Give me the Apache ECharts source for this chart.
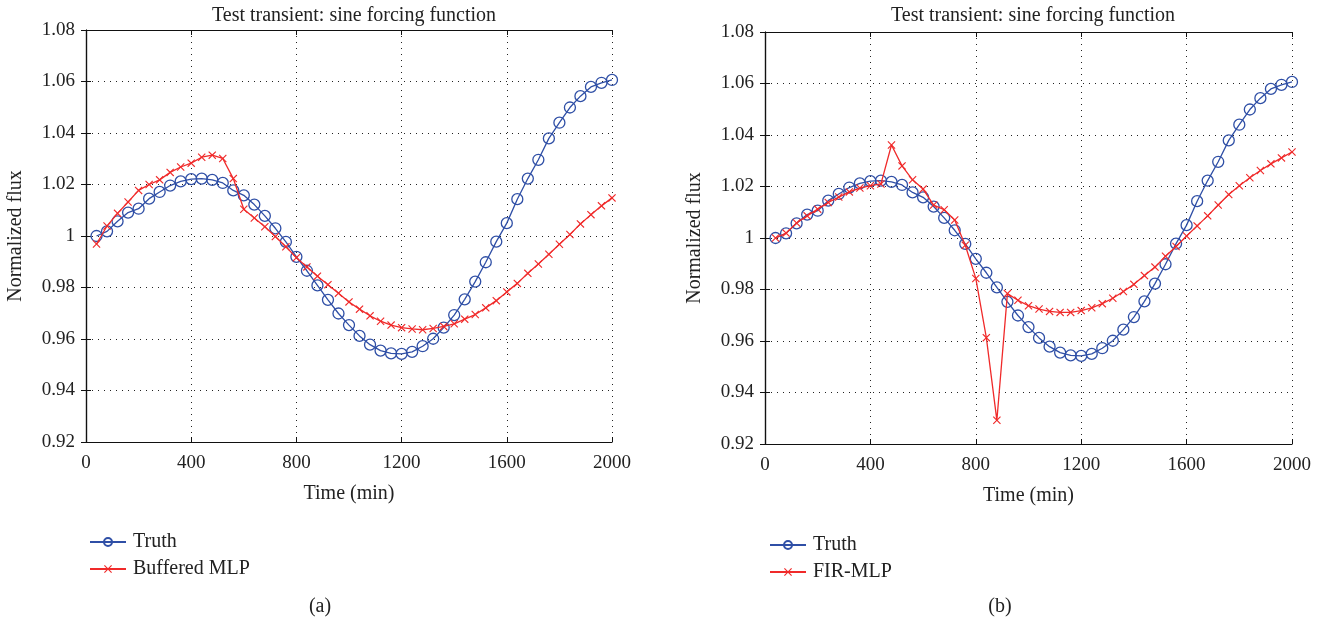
<!DOCTYPE html>
<html>
<head>
<meta charset="utf-8">
<script src="https://cdn.jsdelivr.net/npm/echarts@6/dist/echarts.min.js"></script>
<style>
  html, body { margin: 0; padding: 0; background: #fff; }
  #chart { width: 1326px; height: 619px; }
</style>
</head>
<body>
<div id="chart"></div>
<script>
// time samples (min)
const timeMin = [
  40, 80, 120, 160, 200, 240, 280, 320, 360, 400,
  440, 480, 520, 560, 600, 640, 680, 720, 760, 800,
  840, 880, 920, 960, 1000, 1040, 1080, 1120, 1160, 1200,
  1240, 1280, 1320, 1360, 1400, 1440, 1480, 1520, 1560, 1600,
  1640, 1680, 1720, 1760, 1800, 1840, 1880, 1920, 1960, 2000
];
// normalized flux, truth (same in both panels)
const truth = [
  1.0000, 1.0018, 1.0057, 1.0091, 1.0106, 1.0145, 1.0171, 1.0196, 1.0212, 1.0221,
  1.0223, 1.0218, 1.0206, 1.0177, 1.0158, 1.0122, 1.0078, 1.0030, 0.9977, 0.9919,
  0.9865, 0.9808, 0.9752, 0.9699, 0.9654, 0.9612, 0.9578, 0.9555, 0.9544, 0.9542,
  0.9550, 0.9572, 0.9601, 0.9644, 0.9693, 0.9754, 0.9823, 0.9898, 0.9978, 1.0050,
  1.0143, 1.0223, 1.0296, 1.0379, 1.0440, 1.0499, 1.0543, 1.0579, 1.0595, 1.0606
];
// panel (a)
const bufferedMLP = [
  0.9969, 1.0039, 1.0088, 1.0132, 1.0177, 1.0200, 1.0218, 1.0247, 1.0268, 1.0283,
  1.0306, 1.0314, 1.0301, 1.0223, 1.0104, 1.0070, 1.0036, 0.9998, 0.9958, 0.9916,
  0.9880, 0.9844, 0.9811, 0.9778, 0.9744, 0.9716, 0.9690, 0.9669, 0.9654, 0.9644,
  0.9639, 0.9636, 0.9641, 0.9649, 0.9659, 0.9677, 0.9695, 0.9721, 0.9749, 0.9783,
  0.9816, 0.9855, 0.9891, 0.9929, 0.9968, 1.0006, 1.0047, 1.0083, 1.0117, 1.0148
];
// panel (b)
const firMLP = [
  1.0000, 1.0019, 1.0058, 1.0086, 1.0112, 1.0138, 1.0159, 1.0179, 1.0194, 1.0203,
  1.0210, 1.0361, 1.0280, 1.0226, 1.0190, 1.0128, 1.0110, 1.0070, 0.9972, 0.9843,
  0.9613, 0.9292, 0.9784, 0.9758, 0.9737, 0.9724, 0.9715, 0.9711, 0.9711, 0.9718,
  0.9729, 0.9745, 0.9766, 0.9792, 0.9820, 0.9854, 0.9887, 0.9929, 0.9967, 1.0008,
  1.0047, 1.0086, 1.0128, 1.0169, 1.0203, 1.0234, 1.0262, 1.0288, 1.0311, 1.0334
];
const xTicks = [0, 400, 800, 1200, 1600, 2000];
const yTicks = [0.92, 0.94, 0.96, 0.98, 1, 1.02, 1.04, 1.06, 1.08];

const FONT = 'Liberation Serif';
const BLUE = '#2f4fa6';
const RED = '#f02a2a';
const CROSS = 'path://M1,0 L5,4 L9,0 L10,1 L6,5 L10,9 L9,10 L5,6 L1,10 L0,9 L4,5 L0,1 Z';

const pair = (xs, ys) => xs.map((x, i) => [x, ys[i]]);

const xMain = (g) => ({
  type: 'value', gridIndex: g,
  min: xTicks[0], max: xTicks[xTicks.length - 1], interval: 400,
  name: 'Time (min)', nameLocation: 'middle', nameGap: 42,
  nameTextStyle: { fontFamily: FONT, fontSize: 20, color: '#222' },
  axisLine: { lineStyle: { color: '#111', width: 1.2 } },
  axisTick: { inside: true, length: 5, lineStyle: { color: '#111' } },
  axisLabel: { fontFamily: FONT, fontSize: 19, color: '#222', margin: 12,
    formatter: (v) => String(v) },
  splitLine: {
    show: true,
    lineStyle: { color: '#222', type: [1, 5], width: 1 }
  }
});
const xTop = (g) => ({
  type: 'value', gridIndex: g, position: 'top',
  min: xTicks[0], max: xTicks[xTicks.length - 1], interval: 400,
  axisLine: { lineStyle: { color: '#111', width: 1.2 } },
  axisTick: { inside: true, length: 5, lineStyle: { color: '#111' } },
  axisLabel: { show: false }, splitLine: { show: false }
});
const yMain = (g) => ({
  type: 'value', gridIndex: g,
  min: yTicks[0], max: yTicks[yTicks.length - 1], interval: 0.02,
  name: 'Normalized flux', nameLocation: 'middle', nameGap: 60,
  nameTextStyle: { fontFamily: FONT, fontSize: 20, color: '#222' },
  axisLine: { show: true, lineStyle: { color: '#111', width: 1.2 } },
  axisTick: { show: true, inside: true, length: 5, lineStyle: { color: '#111' } },
  axisLabel: { fontFamily: FONT, fontSize: 19, color: '#222', margin: 11 },
  splitLine: {
    show: true,
    lineStyle: { color: '#222', type: [1, 5], width: 1 }
  }
});
const yRight = (g) => ({
  type: 'value', gridIndex: g, position: 'right',
  min: yTicks[0], max: yTicks[yTicks.length - 1], interval: 0.02,
  axisLine: { show: true, lineStyle: { color: '#111', width: 1.2 } },
  axisTick: { show: true, inside: true, length: 5, lineStyle: { color: '#111' } },
  axisLabel: { show: false }, splitLine: { show: false }
});

const truthSeries = (xi, yi) => ({
  name: 'Truth', type: 'line', xAxisIndex: xi, yAxisIndex: yi,
  data: pair(timeMin, truth),
  symbol: 'circle', symbolSize: 11,
  lineStyle: { color: BLUE, width: 1.3 },
  itemStyle: { color: 'rgba(0,0,0,0)', borderColor: BLUE, borderWidth: 1.3 },
  emphasis: { disabled: true }, z: 2
});
const modelSeries = (name, vals, xi, yi) => ({
  name: name, type: 'line', xAxisIndex: xi, yAxisIndex: yi,
  data: pair(timeMin, vals),
  symbol: CROSS, symbolSize: 8,
  lineStyle: { color: RED, width: 1.3 },
  itemStyle: { color: RED },
  emphasis: { disabled: true }, z: 3
});

const legendBase = {
  orient: 'vertical', itemWidth: 36, itemHeight: 10, itemGap: 7,
  textStyle: { fontFamily: FONT, fontSize: 20, color: '#222', padding: [0, 0, 0, 2] }
};

const myChart = echarts.init(document.getElementById('chart'));
myChart.setOption({
  animation: false,
  title: [
    { text: 'Test transient: sine forcing function', left: 349, top: 1, textAlign: 'center',
      textStyle: { fontFamily: FONT, fontSize: 20, fontWeight: 'normal', color: '#222' } },
    { text: 'Test transient: sine forcing function', left: 1028, top: 1, textAlign: 'center',
      textStyle: { fontFamily: FONT, fontSize: 20, fontWeight: 'normal', color: '#222' } },
    { text: '(a)', left: 315, top: 592, textAlign: 'center',
      textStyle: { fontFamily: FONT, fontSize: 20, fontWeight: 'normal', color: '#222' } },
    { text: '(b)', left: 995, top: 592, textAlign: 'center',
      textStyle: { fontFamily: FONT, fontSize: 20, fontWeight: 'normal', color: '#222' } }
  ],
  legend: [
    Object.assign({ left: 84, top: 527, data: ['Truth', 'Buffered MLP'] }, legendBase),
    Object.assign({ left: 764, top: 530, data: ['Truth', 'FIR-MLP'] }, legendBase)
  ],
  grid: [
    { left: 86, width: 526, top: 30, height: 412 },
    { left: 765, width: 527, top: 32, height: 412 }
  ],
  xAxis: [xMain(0), xTop(0), xMain(1), xTop(1)],
  yAxis: [yMain(0), yRight(0), yMain(1), yRight(1)],
  series: [
    truthSeries(0, 0),
    modelSeries('Buffered MLP', bufferedMLP, 0, 0),
    truthSeries(2, 2),
    modelSeries('FIR-MLP', firMLP, 2, 2)
  ]
});
window.onresize = function () {
  myChart.resize();
};
</script>
</body>
</html>
